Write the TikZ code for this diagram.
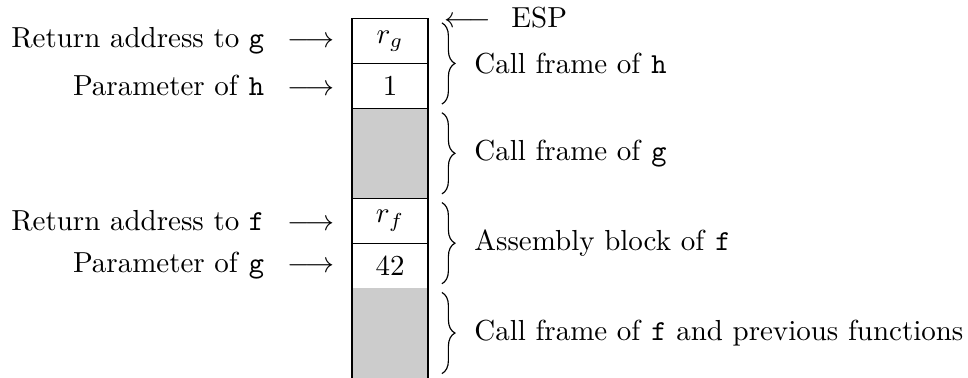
\documentclass[tikz,border=0pt]{standalone}
\usetikzlibrary{positioning,decorations.pathreplacing}

\begin{document}
\begin{tikzpicture}[
  x=0.345pt, y=0.345pt,
  node distance=0pt,
  cell/.style={draw,minimum width=26.2pt,minimum height=15.5pt,inner sep=0pt,outer sep=0pt},
  frame/.style={cell,fill=gray!40,minimum height=31pt},
  lab/.style={inner sep=0pt,anchor=east},
  brace/.style={decorate,decoration={brace,amplitude=4.5pt}},
  note/.style={right=11pt,inner sep=0pt}
]
\useasboundingbox (0,0) rectangle (968,-378);
% the stack, top down
\node[cell] (rg) at (390,-41) {$r_g$};
\node[cell,below=of rg] (one) {1};
\node[frame,below=of one] (gframe) {};
\node[cell,below=of gframe] (rf) {$r_f$};
\node[cell,below=of rf] (ftwo) {42};
\node[frame,draw=none,below=of ftwo] (fframe) {};
\draw (fframe.north west) -- (fframe.south west) (fframe.north east) -- (fframe.south east);
% what the cells hold
\node[lab,left=6pt of rg] (rglab) {Return address to \texttt{g}\hspace{8pt}$\longrightarrow$};
\node[lab,left=6pt of one] (onelab) {Parameter of \texttt{h}\hspace{8pt}$\longrightarrow$};
\node[lab,left=6pt of rf] (rflab) {Return address to \texttt{f}\hspace{8pt}$\longrightarrow$};
\node[lab,left=6pt of ftwo] (ftwolab) {Parameter of \texttt{g}\hspace{8pt}$\longrightarrow$};
\node[inner sep=0pt,anchor=base west] (esp) at ([xshift=5.5pt,yshift=-3.1pt]rg.north east) {$\longleftarrow$\hspace{7pt}ESP};
% frames
\draw[brace] ([xshift=4.8pt,yshift=-1.5pt]rg.north east) -- node[note] (hnote) {Call frame of \texttt{h}} ([xshift=4.8pt,yshift=1.5pt]one.south east);
\draw[brace] ([xshift=4.8pt,yshift=-1.5pt]gframe.north east) -- node[note] (gnote) {Call frame of \texttt{g}} ([xshift=4.8pt,yshift=1.5pt]gframe.south east);
\draw[brace] ([xshift=4.8pt,yshift=-1.5pt]rf.north east) -- node[note] (fnote) {Assembly block of \texttt{f}} ([xshift=4.8pt,yshift=1.5pt]ftwo.south east);
\draw[brace] ([xshift=4.8pt,yshift=-1.5pt]fframe.north east) -- node[note] (prevnote) {Call frame of \texttt{f} and previous functions} ([xshift=4.8pt,yshift=1.5pt]fframe.south east);
\end{tikzpicture}
\end{document}
